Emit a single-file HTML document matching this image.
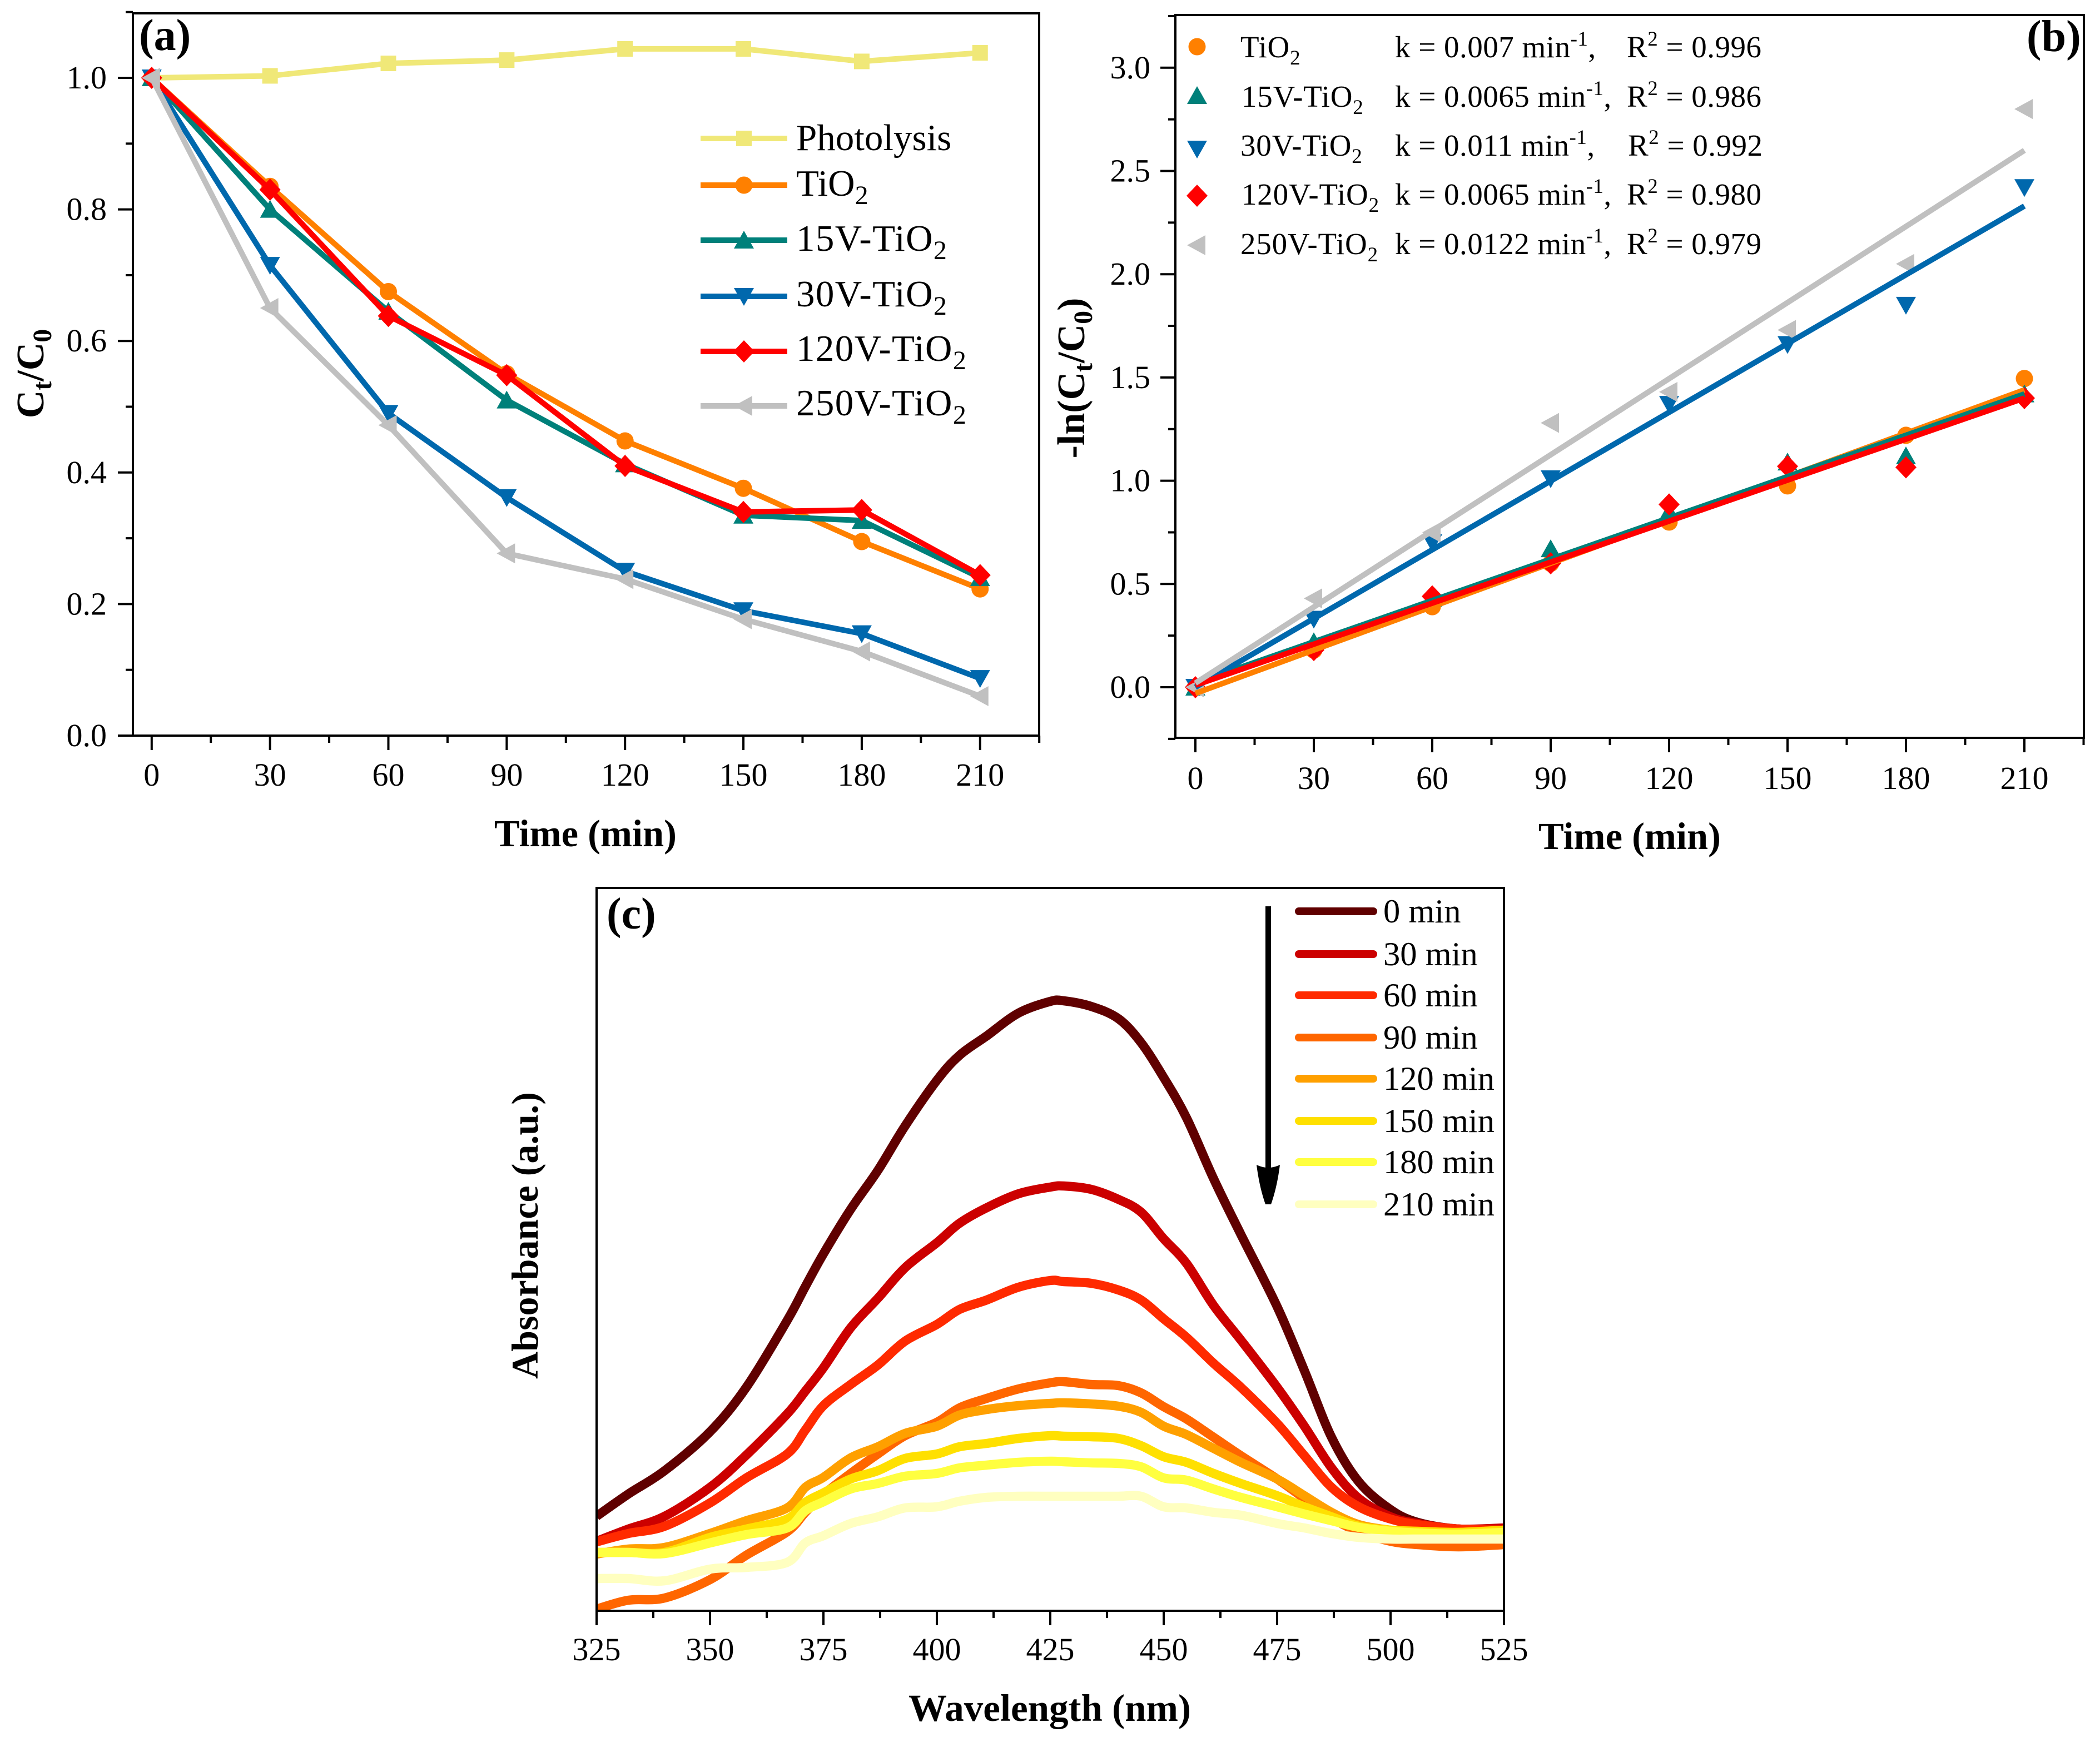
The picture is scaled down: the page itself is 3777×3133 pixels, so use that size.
<!DOCTYPE html>
<html lang="en">
<head>
<meta charset="utf-8">
<title>Photocatalytic degradation charts</title>
<style>
html,body{margin:0;padding:0;background:#fff;}
svg{display:block;font-family:"Liberation Serif","Times New Roman",serif;fill:#000;}
.tick{font-size:58px;}
.leg-a{font-size:67px;}
.leg-a.wide{letter-spacing:1.4px;}
.leg-b{font-size:55px;letter-spacing:0.5px;}
.leg-b.name{letter-spacing:0.8px;}
.leg-c{font-size:60.5px;}
.title{font-weight:bold;font-size:68.5px;}
.panel{font-weight:bold;font-size:80px;}
</style>
</head>
<body>
<svg id="fig" xmlns="http://www.w3.org/2000/svg" width="3777" height="3133" viewBox="0 0 3777 3133">
  <rect width="3777" height="3133" fill="#fff"/>
  <defs>
    <clipPath id="clip-c"><rect x="1073" y="1597" width="1632" height="1300"/></clipPath>
  </defs>
  <g id="panel-a"></g>
  <g id="panel-b"></g>
  <g id="panel-c"></g>

  <text class="panel" x="250" y="90">(a)</text>
  <text class="title" x="1053" y="1522" text-anchor="middle">Time (min)</text>
  <text class="title" transform="translate(78,672) rotate(-90)" text-anchor="middle" style="font-size:70px">C<tspan dy="14" font-size="48">t</tspan><tspan dy="-14">/C</tspan><tspan dy="14" font-size="48">0</tspan></text>

  <g>
    <text class="leg-a" x="1432" y="270">Photolysis</text>
    <text class="leg-a" x="1432" y="352">TiO<tspan dy="15" font-size="48">2</tspan></text>
    <text class="leg-a wide" x="1432" y="451">15V-TiO<tspan dy="15" font-size="48">2</tspan></text>
    <text class="leg-a wide" x="1432" y="551">30V-TiO<tspan dy="15" font-size="48">2</tspan></text>
    <text class="leg-a wide" x="1432" y="649">120V-TiO<tspan dy="15" font-size="48">2</tspan></text>
    <text class="leg-a wide" x="1432" y="747">250V-TiO<tspan dy="15" font-size="48">2</tspan></text>
  </g>

  <text class="panel" x="3645" y="92">(b)</text>
  <text class="title" x="2931" y="1527" text-anchor="middle">Time (min)</text>
  <text class="title" transform="translate(1950,680) rotate(-90)" text-anchor="middle" style="font-size:70px">-ln(C<tspan dy="14" font-size="48">t</tspan><tspan dy="-14">/C</tspan><tspan dy="14" font-size="48">0</tspan><tspan dy="-14">)</tspan></text>

  <g>
    <text class="leg-b name" x="2231" y="103">TiO<tspan dy="13" font-size="37">2</tspan></text>
    <text class="leg-b" x="2509" y="103">k = 0.007 min<tspan dy="-21" font-size="37">-1</tspan><tspan dy="21">,</tspan></text>
    <text class="leg-b" x="2926" y="103">R<tspan dy="-21" font-size="37">2</tspan><tspan dy="21"> = 0.996</tspan></text>

    <text class="leg-b name" x="2233" y="192">15V-TiO<tspan dy="13" font-size="37">2</tspan></text>
    <text class="leg-b" x="2509" y="192">k = 0.0065 min<tspan dy="-21" font-size="37">-1</tspan><tspan dy="21">,</tspan></text>
    <text class="leg-b" x="2926" y="192">R<tspan dy="-21" font-size="37">2</tspan><tspan dy="21"> = 0.986</tspan></text>

    <text class="leg-b name" x="2231" y="280">30V-TiO<tspan dy="13" font-size="37">2</tspan></text>
    <text class="leg-b" x="2509" y="280">k = 0.011 min<tspan dy="-21" font-size="37">-1</tspan><tspan dy="21">,</tspan></text>
    <text class="leg-b" x="2928" y="280">R<tspan dy="-21" font-size="37">2</tspan><tspan dy="21"> = 0.992</tspan></text>

    <text class="leg-b name" x="2233" y="368">120V-TiO<tspan dy="13" font-size="37">2</tspan></text>
    <text class="leg-b" x="2509" y="368">k = 0.0065 min<tspan dy="-21" font-size="37">-1</tspan><tspan dy="21">,</tspan></text>
    <text class="leg-b" x="2926" y="368">R<tspan dy="-21" font-size="37">2</tspan><tspan dy="21"> = 0.980</tspan></text>

    <text class="leg-b name" x="2231" y="457">250V-TiO<tspan dy="13" font-size="37">2</tspan></text>
    <text class="leg-b" x="2509" y="457">k = 0.0122 min<tspan dy="-21" font-size="37">-1</tspan><tspan dy="21">,</tspan></text>
    <text class="leg-b" x="2926" y="457">R<tspan dy="-21" font-size="37">2</tspan><tspan dy="21"> = 0.979</tspan></text>
  </g>

  <text class="panel" x="1091" y="1670">(c)</text>
  <text class="title" x="1888" y="3095" text-anchor="middle" style="font-size:69px">Wavelength (nm)</text>
  <text class="title" transform="translate(967,2222) rotate(-90)" text-anchor="middle" style="font-size:68px">Absorbance (a.u.)</text>

  <g>
    <text class="leg-c" x="2488" y="1659">0 min</text>
    <text class="leg-c" x="2488" y="1736">30 min</text>
    <text class="leg-c" x="2488" y="1810">60 min</text>
    <text class="leg-c" x="2488" y="1886">90 min</text>
    <text class="leg-c" x="2488" y="1960">120 min</text>
    <text class="leg-c" x="2488" y="2036">150 min</text>
    <text class="leg-c" x="2488" y="2110">180 min</text>
    <text class="leg-c" x="2488" y="2186">210 min</text>
  </g>

  <g>
    <line x1="2281" y1="1630" x2="2281" y2="2110" stroke="#000" stroke-width="10"/>
    <path d="M2260 2095 Q2281 2105 2302 2095 Q2297 2135 2286 2166 L2276 2166 Q2265 2135 2260 2095 Z" fill="#000"/>
  </g>
</svg>
<script>
// Panel (a) data
const timeValues = [0, 30, 60, 90, 120, 150, 180, 210];
const photolysisRatio = [1.0, 1.003, 1.022, 1.027, 1.044, 1.044, 1.025, 1.038];
const tio2Ratio = [1.0, 0.835, 0.675, 0.55, 0.448, 0.376, 0.295, 0.223];
const v15Ratio = [1.0, 0.80, 0.645, 0.51, 0.413, 0.335, 0.327, 0.24];
const v30Ratio = [1.0, 0.715, 0.49, 0.362, 0.25, 0.19, 0.155, 0.087];
const v120Ratio = [1.0, 0.83, 0.638, 0.548, 0.41, 0.34, 0.343, 0.244];
const v250Ratio = [1.0, 0.65, 0.472, 0.277, 0.238, 0.177, 0.128, 0.06];
const ratioTickLabels = ['0.0', '0.2', '0.4', '0.6', '0.8', '1.0'];
const ratioMinorTicks = [0.1, 0.3, 0.5, 0.7, 0.9, 1.1];
const timeTickLabels = ['0', '30', '60', '90', '120', '150', '180', '210'];
const timeMinorTicks = [15, 45, 75, 105, 135, 165, 195, 225];

// Panel (b) data
const tio2Ln = [0, 0.18, 0.39, 0.60, 0.80, 0.975, 1.22, 1.495];
const v15Ln = [0, 0.22, 0.43, 0.67, 0.85, 1.09, 1.12, 1.42];
const v30Ln = [0, 0.33, 0.70, 1.01, 1.37, 1.66, 1.85, 2.42];
const v120Ln = [0, 0.18, 0.44, 0.60, 0.885, 1.07, 1.065, 1.40];
const v250Ln = [0, 0.43, 0.75, 1.28, 1.43, 1.73, 2.05, 2.80];
const fitStartValues = [-0.03, 0.02, 0.0, 0.01, 0.02];
const fitEndValues = [1.44, 1.42, 2.33, 1.40, 2.60];
const lnTickLabels = ['0.0', '0.5', '1.0', '1.5', '2.0', '2.5', '3.0'];
const lnMinorTicks = [-0.25, 0.25, 0.75, 1.25, 1.75, 2.25, 2.75, 3.25];

// Panel (c) data
const wavelengths = [325,332,340,350,358,367,371,375,381,387,393,400,405,411,418,425,428,434,440,445,450,455,461,467,475,481,487,493,500,506,515,525];
const abs0 = [170,210,252,322,402,522,583,642,722,792,872,954,999,1034,1075,1096,1097,1087,1065,1022,959,887,777,677,547,432,312,232,182,159,147,147];
const abs30 = [125,147,170,222,280,354,395,437,509,562,617,662,697,725,750,762,764,758,740,717,669,625,549,487,402,332,257,202,169,157,147,149];
const abs60 = [124,139,152,194,239,282,325,369,407,442,485,515,542,559,582,594,592,589,577,559,525,492,445,402,337,279,222,187,165,155,147,145];
const abs90 = [3,19,23,56,100,142,177,209,247,282,315,339,365,382,399,410,412,407,405,392,367,345,312,279,237,202,167,142,125,119,115,119];
const abs120 = [102,111,114,139,162,185,222,240,275,295,319,332,352,362,369,373,374,372,368,357,332,317,292,267,237,207,177,155,145,141,141,145];
const abs150 = [105,105,105,132,147,165,195,212,237,252,274,282,295,301,310,315,314,313,310,297,277,267,247,229,207,187,169,152,145,143,141,145];
const abs180 = [105,105,103,122,137,149,180,196,219,229,242,247,257,262,267,269,268,266,265,259,239,235,219,204,187,174,162,150,143,140,138,141];
const abs210 = [58,58,54,75,78,87,122,135,157,169,185,187,197,204,206,206,206,206,206,206,187,185,177,172,157,149,139,132,129,129,129,129];
const wavelengthTickLabels = ['325', '350', '375', '400', '425', '450', '475', '500', '525'];
const wavelengthMinorTicks = [337.5, 362.5, 387.5, 412.5, 437.5, 462.5, 487.5, 512.5];

const NS = 'http://www.w3.org/2000/svg';
const ORANGE = '#ff8000', TEAL = '#00807a', BLUE = '#0068ad', RED = '#ff0000', GRAY = '#c0c0c0', PALE = '#f0e878';

function mk(tag, parent, attrs) {
  const node = document.createElementNS(NS, tag);
  for (const k in attrs) node.setAttribute(k, attrs[k]);
  parent.appendChild(node);
  return node;
}

function drawMarker(parent, type, cx, cy, color, label) {
  let m;
  if (type === 'square') {
    m = mk('rect', parent, {x: cx - 14, y: cy - 14, width: 28, height: 28, fill: color});
  } else if (type === 'circle') {
    m = mk('circle', parent, {cx: cx, cy: cy, r: 15.5, fill: color});
  } else {
    let pts;
    if (type === 'up') pts = [[cx - 18, cy + 15], [cx + 18, cy + 15], [cx, cy - 17]];
    if (type === 'down') pts = [[cx - 18, cy - 15], [cx + 18, cy - 15], [cx, cy + 17]];
    if (type === 'diamond') pts = [[cx - 19, cy], [cx, cy - 20], [cx + 19, cy], [cx, cy + 20]];
    if (type === 'left') pts = [[cx - 18, cy], [cx + 15, cy - 18], [cx + 15, cy + 18]];
    m = mk('polygon', parent, {points: pts.map(p => p.join(',')).join(' '), fill: color});
  }
  
  
  return m;
}

function seg(parent, x1, y1, x2, y2, w, label) {
  const l = mk('line', parent, {x1: x1, y1: y1, x2: x2, y2: y2, stroke: '#000', 'stroke-width': w});
  
  
  return l;
}

function tickText(parent, x, y, anchor, str, label) {
  const t = mk('text', parent, {x: x, y: y, 'text-anchor': anchor, 'class': 'tick'});
  t.textContent = str;
  
  
  return t;
}

function frame(parent, left, right, top, bottom, prefix) {
  const r = mk('rect', parent, {x: left, y: top, width: right - left, height: bottom - top, fill: 'none', stroke: '#000', 'stroke-width': 4});
  
  
}

function polyline(parent, pts, color, width, label) {
  const l = mk('polyline', parent, {points: pts.map(p => p[0].toFixed(1) + ',' + p[1].toFixed(1)).join(' '), fill: 'none', stroke: color, 'stroke-width': width, 'stroke-linejoin': 'round'});
  
  
  return l;
}

function smoothPath(parent, pts, color, width, label) {
  let d = 'M' + pts[0][0].toFixed(1) + ' ' + pts[0][1].toFixed(1);
  for (let i = 0; i < pts.length - 1; i++) {
    const p0 = pts[Math.max(i - 1, 0)], p1 = pts[i], p2 = pts[i + 1], p3 = pts[Math.min(i + 2, pts.length - 1)];
    const c1x = p1[0] + (p2[0] - p0[0]) / 6, c1y = p1[1] + (p2[1] - p0[1]) / 6;
    const c2x = p2[0] - (p3[0] - p1[0]) / 6, c2y = p2[1] - (p3[1] - p1[1]) / 6;
    d += ' C' + c1x.toFixed(1) + ' ' + c1y.toFixed(1) + ' ' + c2x.toFixed(1) + ' ' + c2y.toFixed(1) + ' ' + p2[0].toFixed(1) + ' ' + p2[1].toFixed(1);
  }
  const l = mk('path', parent, {d: d, fill: 'none', stroke: color, 'stroke-width': width, 'stroke-linejoin': 'round'});
  
  
  return l;
}

/* ---------- Panel (a) ---------- */
(function () {
  const g = document.getElementById('panel-a');
  const xA = t => 272.8 + t * 7.095;
  const yA = v => 1323 - v * 1183;
  const L = 239, R = 1869, T = 24, B = 1323;
  frame(g, L, R, T, B, 'panel-a');
  ratioTickLabels.forEach(s => {
    const v = parseFloat(s);
    seg(g, L - 27, yA(v), L, yA(v), 4, 'panel-a-y-tick');
    tickText(g, 192, yA(v) + 19, 'end', s, 'panel-a-y-tick-label');
  });
  ratioMinorTicks.forEach(v => seg(g, L - 13, yA(v), L, yA(v), 4, 'panel-a-y-minor-tick'));
  timeTickLabels.forEach(s => {
    const t = parseFloat(s);
    seg(g, xA(t), B, xA(t), B + 26, 4, 'panel-a-x-tick');
    tickText(g, xA(t), 1413, 'middle', s, 'panel-a-x-tick-label');
  });
  timeMinorTicks.forEach(t => seg(g, xA(t), B, xA(t), B + 13, 4, 'panel-a-x-minor-tick'));

  const series = [
    ['photolysis', photolysisRatio, PALE, 'square'],
    ['tio2', tio2Ratio, ORANGE, 'circle'],
    ['15v-tio2', v15Ratio, TEAL, 'up'],
    ['30v-tio2', v30Ratio, BLUE, 'down'],
    ['120v-tio2', v120Ratio, RED, 'diamond'],
    ['250v-tio2', v250Ratio, GRAY, 'left']
  ];
  const legendY = [249, 333, 432, 533, 632, 730];
  series.forEach((s, i) => {
    const sg = mk('g', g, {});
    
    
    polyline(sg, s[1].map((v, j) => [xA(timeValues[j]), yA(v)]), s[2], 10, 'line-' + s[0]);
    s[1].forEach((v, j) => drawMarker(sg, s[3], xA(timeValues[j]), yA(v), s[2], 'point-' + s[0]));
    polyline(sg, [[1260, legendY[i]], [1416, legendY[i]]], s[2], 10, 'legend-line-' + s[0]);
    drawMarker(sg, s[3], 1338, legendY[i], s[2], 'legend-marker-' + s[0]);
  });
})();

/* ---------- Panel (b) ---------- */
(function () {
  const g = document.getElementById('panel-b');
  const xB = t => 2150 + t * 7.1;
  const yB = v => 1236 - v * 371.4;
  const L = 2114, R = 3748, T = 27, B = 1327;
  frame(g, L, R, T, B, 'panel-b');
  lnTickLabels.forEach(s => {
    const v = parseFloat(s);
    seg(g, L - 27, yB(v), L, yB(v), 4, 'panel-b-y-tick');
    tickText(g, 2069, yB(v) + 19, 'end', s, 'panel-b-y-tick-label');
  });
  lnMinorTicks.forEach(v => seg(g, L - 13, yB(v), L, yB(v), 4, 'panel-b-y-minor-tick'));
  timeTickLabels.forEach(s => {
    const t = parseFloat(s);
    seg(g, xB(t), B, xB(t), B + 26, 4, 'panel-b-x-tick');
    tickText(g, xB(t), 1419, 'middle', s, 'panel-b-x-tick-label');
  });
  timeMinorTicks.forEach(t => seg(g, xB(t), B, xB(t), B + 13, 4, 'panel-b-x-minor-tick'));

  const series = [
    ['tio2', tio2Ln, ORANGE, 'circle'],
    ['15v-tio2', v15Ln, TEAL, 'up'],
    ['30v-tio2', v30Ln, BLUE, 'down'],
    ['120v-tio2', v120Ln, RED, 'diamond'],
    ['250v-tio2', v250Ln, GRAY, 'left']
  ];
  const legendY = [84, 172, 268, 352, 441];
  series.forEach((s, i) => {
    const sg = mk('g', g, {});
    
    
    s[1].forEach((v, j) => drawMarker(sg, s[3], xB(timeValues[j]), yB(v), s[2], 'point-' + s[0]));
    drawMarker(sg, s[3], 2153, legendY[i], s[2], 'legend-marker-' + s[0]);
  });
  series.forEach((s, i) => {
    const t0 = timeValues[0], t1 = timeValues[timeValues.length - 1];
    polyline(g, [[xB(t0), yB(fitStartValues[i])], [xB(t1), yB(fitEndValues[i])]], s[2], 10, 'fit-line-' + s[0]);
  });
})();

/* ---------- Panel (c) ---------- */
(function () {
  const g = document.getElementById('panel-c');
  const xC = w => 1073 + (w - 325) * 8.16;
  const yC = v => 2897 - v;
  const L = 1073, R = 2705, T = 1597, B = 2897;
  const curves = [
    ['0-min', abs0, '#600000'],
    ['30-min', abs30, '#cc0000'],
    ['60-min', abs60, '#ff2a00'],
    ['90-min', abs90, '#ff6600'],
    ['120-min', abs120, '#ffa000'],
    ['150-min', abs150, '#ffe000'],
    ['180-min', abs180, '#ffff40'],
    ['210-min', abs210, '#ffffc0']
  ];
  const cg = mk('g', g, {'clip-path': 'url(#clip-c)'});
  
  
  curves.forEach(c => {
    smoothPath(cg, c[1].map((v, j) => [xC(wavelengths[j]), yC(v)]), c[2], 16.5, 'curve-' + c[0]);
  });
  frame(g, L, R, T, B, 'panel-c');
  wavelengthTickLabels.forEach(s => {
    const w = parseFloat(s);
    seg(g, xC(w), B, xC(w), B + 26, 4, 'panel-c-x-tick');
    tickText(g, xC(w), 2986, 'middle', s, 'panel-c-x-tick-label');
  });
  wavelengthMinorTicks.forEach(w => seg(g, xC(w), B, xC(w), B + 13, 4, 'panel-c-x-minor-tick'));
  const legendY = [1639, 1716, 1790, 1866, 1940, 2016, 2090, 2166];
  curves.forEach((c, i) => {
    const l = mk('line', g, {x1: 2336, y1: legendY[i], x2: 2470, y2: legendY[i], stroke: c[2], 'stroke-width': 14, 'stroke-linecap': 'round'});
    
    
  });
})();
</script>
</body>
</html>
